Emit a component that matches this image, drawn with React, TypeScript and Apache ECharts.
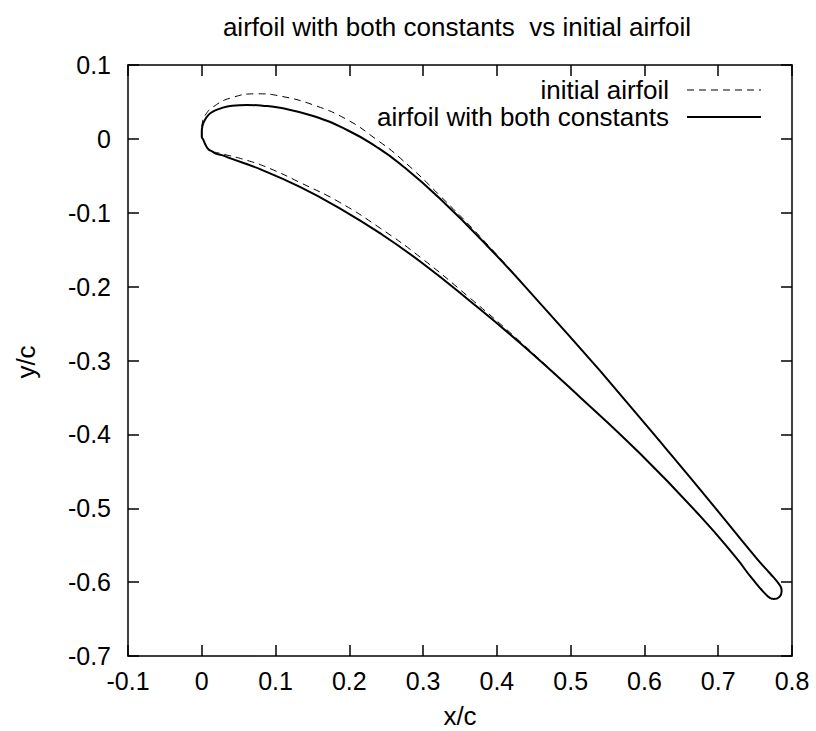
import React, { useEffect, useRef } from "react";
import * as echarts from "echarts";

// Airfoil section coordinates (x/c, y/c).
// Upper surfaces run from the trailing-edge tip to the leading edge,
// lower surfaces from the leading edge back to the same tip.
const bothUpper: [number, number][] = [
  [0.775, -0.623], [0.783, -0.62], [0.786, -0.612], [0.784, -0.605], [0.77, -0.588],
  [0.752, -0.568], [0.675, -0.474], [0.607, -0.393], [0.54, -0.314], [0.458, -0.222],
  [0.391, -0.149], [0.323, -0.081], [0.269, -0.034], [0.237, -0.011], [0.197, 0.012],
  [0.151, 0.031], [0.106, 0.042], [0.082, 0.045], [0.061, 0.046], [0.041, 0.045],
  [0.025, 0.041], [0.012, 0.035], [0.005, 0.027], [0.001, 0.018], [0.0, 0.009],
  [0.0, 0.003], [0.002, -0.001],
];
const bothLower: [number, number][] = [
  [0.005, -0.008], [0.009, -0.014], [0.014, -0.017], [0.019, -0.02], [0.027, -0.022],
  [0.038, -0.026], [0.079, -0.041], [0.133, -0.065], [0.187, -0.094], [0.242, -0.128],
  [0.296, -0.166], [0.363, -0.219], [0.431, -0.276], [0.512, -0.349], [0.594, -0.426],
  [0.675, -0.51], [0.725, -0.568], [0.745, -0.594], [0.767, -0.619], [0.775, -0.623],
];
const initialUpper: [number, number][] = [
  [0.775, -0.623], [0.783, -0.62], [0.786, -0.612], [0.784, -0.605], [0.77, -0.588],
  [0.752, -0.568], [0.675, -0.474], [0.607, -0.393], [0.54, -0.314], [0.458, -0.222],
  [0.391, -0.147], [0.323, -0.077], [0.269, -0.026], [0.237, -0.001], [0.197, 0.026],
  [0.151, 0.046], [0.106, 0.058], [0.075, 0.061], [0.038, 0.055], [0.015, 0.043],
  [0.006, 0.034], [0.001, 0.023], [0.0, 0.012], [0.0, 0.003], [0.002, -0.001],
];
const initialLower: [number, number][] = [
  [0.005, -0.008], [0.009, -0.014], [0.014, -0.017], [0.022, -0.019], [0.061, -0.029],
  [0.092, -0.04], [0.133, -0.059], [0.187, -0.086], [0.242, -0.121], [0.296, -0.16],
  [0.363, -0.215], [0.431, -0.274], [0.512, -0.349], [0.594, -0.426], [0.675, -0.51],
  [0.725, -0.568], [0.745, -0.594], [0.767, -0.619], [0.775, -0.623],
];

const seriesNames = ["initial airfoil", "airfoil with both constants"];
const titleText = "airfoil with both constants  vs initial airfoil";
const xName = "x/c";
const yName = "y/c";

// Join both surfaces into one closed outline whose seam sits on a straight
// stretch of the upper surface, so the smoothed curve has no visible corner.
const closedOutline = (upper: [number, number][], lower: [number, number][], seam: number) => [
  ...upper.slice(seam),
  ...lower,
  ...upper.slice(1, seam + 1),
];

const FONT = "'Liberation Sans', Arial, Helvetica, sans-serif";
const fmt = (v: number) => {
  const r = Math.round(v * 10) / 10;
  return r === 0 ? "0" : String(r);
};

const axisCommon = {
  type: "value" as const,
  interval: 0.1,
  splitLine: { show: false },
  axisLine: { show: true, onZero: false, lineStyle: { color: "#000", width: 1.5 } },
  axisTick: { show: true, inside: true, length: 11, lineStyle: { color: "#000", width: 1.5 } },
};

export default function App() {
  const ref = useRef<HTMLDivElement>(null);

  useEffect(() => {
    document.body.style.margin = "0";
    if (!ref.current) return;
    const chart = echarts.init(ref.current, undefined, { renderer: "svg" });

    const labelStyle = { color: "#000", fontFamily: FONT, fontSize: 25 };
    const textStyle = (text: string, align: string) => ({
      text,
      fill: "#000",
      font: `26px ${FONT}`,
      align,
      verticalAlign: "middle",
    });

    chart.setOption({
      animation: false,
      backgroundColor: "#fff",
      grid: { left: 128, right: 24, top: 65, bottom: 75, containLabel: false },
      xAxis: [
        {
          ...axisCommon,
          min: -0.1,
          max: 0.8,
          position: "bottom",
          axisLabel: { ...labelStyle, margin: 12, formatter: fmt },
        },
        { ...axisCommon, min: -0.1, max: 0.8, position: "top", axisLabel: { show: false } },
      ],
      yAxis: [
        {
          ...axisCommon,
          min: -0.7,
          max: 0.1,
          position: "left",
          axisLabel: { ...labelStyle, margin: 17, formatter: fmt },
        },
        { ...axisCommon, min: -0.7, max: 0.1, position: "right", axisLabel: { show: false } },
      ],
      series: [
        {
          name: seriesNames[0],
          type: "line",
          xAxisIndex: 0,
          yAxisIndex: 0,
          data: closedOutline(initialUpper, initialLower, 8),
          showSymbol: false,
          symbol: "none",
          smooth: 0.5,
          lineStyle: { color: "#000", width: 1, type: [7, 5] },
        },
        {
          name: seriesNames[1],
          type: "line",
          xAxisIndex: 0,
          yAxisIndex: 0,
          data: closedOutline(bothUpper, bothLower, 8),
          showSymbol: false,
          symbol: "none",
          smooth: 0.5,
          lineStyle: { color: "#000", width: 2 },
        },
      ],
      graphic: [
        { type: "text", x: 457, y: 27, style: textStyle(titleText, "center") },
        { type: "text", x: 460, y: 716, style: textStyle(xName, "center") },
        { type: "text", x: 26, y: 362, rotation: Math.PI / 2, style: textStyle(yName, "center") },
        { type: "text", x: 669, y: 90, style: textStyle(seriesNames[0], "right") },
        {
          type: "line",
          shape: { x1: 687, y1: 90, x2: 761, y2: 90 },
          style: { stroke: "#000", lineWidth: 1, lineDash: [7, 5] },
        },
        { type: "text", x: 669, y: 117, style: textStyle(seriesNames[1], "right") },
        {
          type: "line",
          shape: { x1: 687, y1: 117, x2: 761, y2: 117 },
          style: { stroke: "#000", lineWidth: 2 },
        },
      ],
    });

    return () => chart.dispose();
  }, []);

  return <div ref={ref} style={{ width: 816, height: 731 }} />;
}
